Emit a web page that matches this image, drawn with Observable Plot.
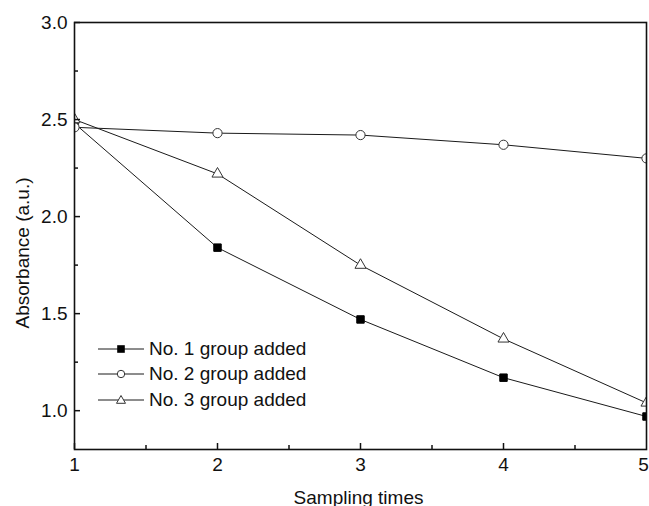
<!DOCTYPE html>
<html>
<head>
<meta charset="utf-8">
<script src="https://cdn.jsdelivr.net/npm/d3@7"></script>
<script src="https://cdn.jsdelivr.net/npm/@observablehq/plot@0.6"></script>
<style>
  html, body { margin: 0; padding: 0; background: #fff; }
  #wrap { position: relative; width: 649px; height: 506px; overflow: hidden; font-family: "Liberation Sans", Arial, sans-serif; }
  #legend { position: absolute; left: 97px; top: 336px; font-size: 19px; color: #111; }
  #legend .row { display: flex; align-items: center; height: 25.5px; }
  #legend svg { display: block; margin-right: 2px; }
</style>
</head>
<body>
<div id="wrap"></div>
<script>
const samplingTimes = [1, 2, 3, 4, 5];
const seriesNames = ["No. 1 group added", "No. 2 group added", "No. 3 group added"];
const group1 = [2.48, 1.84, 1.47, 1.17, 0.97];
const group2 = [2.46, 2.43, 2.42, 2.37, 2.30];
const group3 = [2.50, 2.22, 1.75, 1.37, 1.04];
const xMajor = [1, 2, 3, 4];
const xLast = [5];
const xMinor = [1.5, 2.5, 3.5, 4.5];
const yMajor = [1.0, 1.5, 2.0, 2.5, 3.0];
const yMinor = [1.25, 1.75, 2.25, 2.75];

const symbols = ["square", "circle", "triangle"];
const fills = ["#000", "#fff", "#fff"];
const radii = [4.2, 4.6, 4.1];

const rows = [];
[group1, group2, group3].forEach((vals, i) => {
  vals.forEach((v, j) => rows.push({series: seriesNames[i], idx: i, x: samplingTimes[j], y: v}));
});

const marks = [];
seriesNames.forEach((name, i) => {
  const d = rows.filter(r => r.idx === i);
  marks.push(Plot.line(d, {x: "x", y: "y", stroke: "#1a1a1a", strokeWidth: 1, clip: true}));
});
seriesNames.forEach((name, i) => {
  const d = rows.filter(r => r.idx === i);
  marks.push(Plot.dot(d, {x: "x", y: "y", symbol: () => symbols[i], r: radii[i], fill: fills[i], stroke: i === 0 ? "#000" : "#333", strokeWidth: 1, clip: true}));
});

const chart = Plot.plot({
  width: 649,
  height: 506,
  marginLeft: 74,
  marginRight: 3,
  marginTop: 22,
  marginBottom: 57,
  style: {fontFamily: '"Liberation Sans", Arial, sans-serif', fontSize: "19px", color: "#111", background: "#fff"},
  x: {domain: [1, 5]},
  y: {domain: [0.8, 3.0]},
  marks: [
    ...marks,
    Plot.axisX(xMajor, {tickSize: -6, tickPadding: 14, tickFormat: d3.format("d"), label: null, stroke: "#111", strokeWidth: 1.5}),
    Plot.axisX(xLast, {tickSize: 0, tickPadding: 8, tickFormat: d3.format("d"), label: null, dx: -3}),
    Plot.axisX(xMinor, {tickSize: -4, tickFormat: () => "", label: null, stroke: "#111", strokeWidth: 1.5}),
    Plot.axisY(yMajor, {tickSize: -6, tickPadding: 13, tickFormat: d3.format(".1f"), label: null, stroke: "#111", strokeWidth: 1.5}),
    Plot.axisY(yMinor, {tickSize: -4, tickFormat: () => "", label: null, stroke: "#111", strokeWidth: 1.5}),
    Plot.frame({stroke: "#111", strokeWidth: 1.6}),
    Plot.text(["Sampling times"], {frameAnchor: "bottom", text: d => d, lineAnchor: "bottom", dy: 54, dx: -2, fill: "#111"}),
    Plot.text(["Absorbance (a.u.)"], {frameAnchor: "left", text: d => d, textAnchor: "middle", rotate: -90, dx: -52, dy: 17, fill: "#111"})
  ]
});

const wrap = document.getElementById("wrap");
wrap.appendChild(chart);

// legend
const legend = document.createElement("div");
legend.id = "legend";
const shapeSvg = (i) => {
  const cx = 24, cy = 10;
  let shape;
  if (i === 0) shape = `<rect x="${cx-3.8}" y="${cy-3.8}" width="7.6" height="7.6" fill="#000"/>`;
  else if (i === 1) shape = `<circle cx="${cx}" cy="${cy}" r="3.7" fill="#fff" stroke="#333" stroke-width="1"/>`;
  else shape = `<path d="M${cx},${cy-4.5} L${cx+4.5},${cy+3.3} L${cx-4.5},${cy+3.3} Z" fill="#fff" stroke="#333" stroke-width="1"/>`;
  return `<svg width="50" height="20"><line x1="1" x2="47" y1="${cy}" y2="${cy}" stroke="#1a1a1a" stroke-width="1"/>${shape}</svg>`;
};
seriesNames.forEach((name, i) => {
  const row = document.createElement("div");
  row.className = "row";
  row.innerHTML = shapeSvg(i) + `<span>${name}</span>`;
  legend.appendChild(row);
});
wrap.appendChild(legend);
</script>
</body>
</html>
